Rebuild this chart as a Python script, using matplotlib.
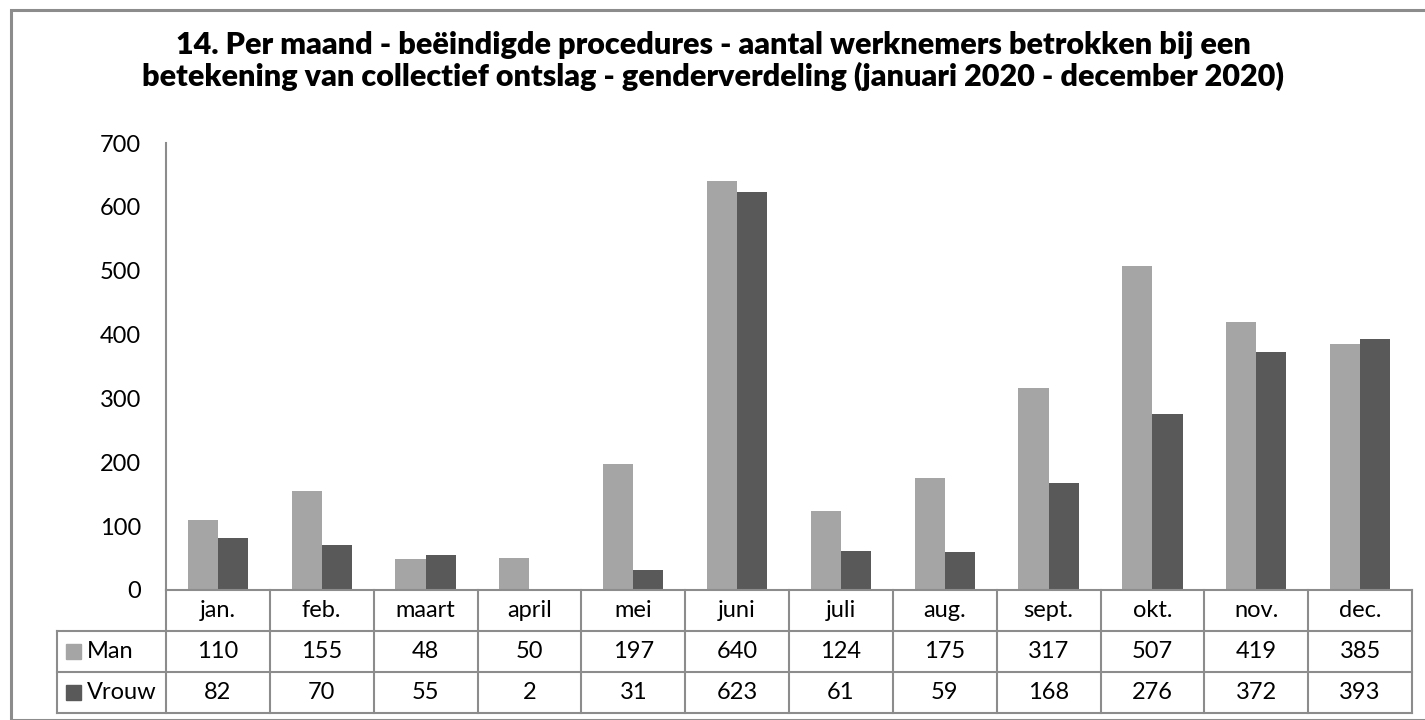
import matplotlib
matplotlib.use("Agg")
import matplotlib.pyplot as plt
from matplotlib.patches import Rectangle
import numpy as np

plt.rcParams['font.family'] = ['Lato', 'DejaVu Sans']

title = ("14. Per maand - beëindigde procedures - aantal werknemers betrokken bij een\n"
         "betekening van collectief ontslag - genderverdeling (januari 2020 - december 2020)")
months = ["jan.", "feb.", "maart", "april", "mei", "juni", "juli", "aug.",
          "sept.", "okt.", "nov.", "dec."]
series_names = ["Man", "Vrouw"]
man = [110, 155, 48, 50, 197, 640, 124, 175, 317, 507, 419, 385]
vrouw = [82, 70, 55, 2, 31, 623, 61, 59, 168, 276, 372, 393]
yticks = [0, 100, 200, 300, 400, 500, 600, 700]

colors = ["#A5A5A5", "#595959"]
grid_c = "#8C8C8C"

W, H = 1425, 720
fig = plt.figure(figsize=(W / 100, H / 100), dpi=100)

# outer border
fig.patches.append(Rectangle((11 / W, 0), 1.2, 1 - 10 / H, transform=fig.transFigure,
                             fill=False, edgecolor=grid_c, linewidth=2.2))

x0, x1 = 166, 1412
y_top, y_zero = 143, 590
ax = fig.add_axes([x0 / W, 1 - y_zero / H, (x1 - x0) / W, (y_zero - y_top) / H])

n = len(months)
x = np.arange(n)
bw = 0.29
ax.bar(x - bw / 2, man, width=bw, color=colors[0], label=series_names[0])
ax.bar(x + bw / 2, vrouw, width=bw, color=colors[1], label=series_names[1])

fs = 17
ax.set_xlim(-0.5, n - 0.5)
ax.set_ylim(0, 700)
ax.set_yticks(yticks)
ax.set_xticks([])
ax.tick_params(axis='y', length=0, labelsize=fs, pad=18, colors='black')
for s in ['top', 'right', 'bottom']:
    ax.spines[s].set_visible(False)
ax.spines['left'].set_color(grid_c)
ax.spines['left'].set_linewidth(1.5)

# table drawn in blended coords: x in data, y in axes fraction
tr = ax.get_xaxis_transform()
row_h = 41 / (y_zero - y_top)
col_px = (x1 - x0) / n
label_left = -0.5 - (x0 - 57) / col_px
lw = 1.5
kw = dict(transform=tr, clip_on=False, color=grid_c, linewidth=lw)

# horizontal lines
ax.plot([-0.5, n - 0.5], [0, 0], **kw)
for r in (1, 2, 3):
    ax.plot([label_left, n - 0.5], [-r * row_h, -r * row_h], **kw)
# vertical lines
for i in range(n + 1):
    ax.plot([i - 0.5, i - 0.5], [0, -3 * row_h], **kw)
ax.plot([label_left, label_left], [-row_h, -3 * row_h], **kw)

for i, m in enumerate(months):
    ax.text(i, -0.5 * row_h, m, transform=tr, ha='center', va='center', fontsize=fs, clip_on=False)
    ax.text(i, -1.5 * row_h, str(man[i]), transform=tr, ha='center', va='center', fontsize=fs, clip_on=False)
    ax.text(i, -2.5 * row_h, str(vrouw[i]), transform=tr, ha='center', va='center', fontsize=fs, clip_on=False)

# row labels with legend keys
sq = 15
for r, (name, c) in enumerate(zip(series_names, colors)):
    yc = 1 - (y_zero + (r + 1.5) * 41) / H
    fig.patches.append(Rectangle((66 / W, yc - sq / 2 / H), sq / W, sq / H,
                                 transform=fig.transFigure, color=c))
    fig.text(87 / W, yc, name, ha='left', va='center', fontsize=fs)

fig.text(713 / W, 1 - 61 / H, title, ha='center', va='center', fontsize=22,
         fontweight='heavy', linespacing=1.1)

fig.savefig("out.png", dpi=100)
